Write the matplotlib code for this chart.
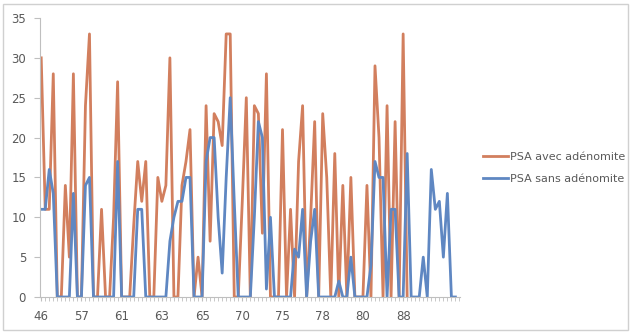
import numpy as np
import matplotlib
matplotlib.use('Agg')
import matplotlib.pyplot as plt
from matplotlib.patches import Rectangle

# PSA values per patient (sorted by age)
psa_avec = [30, 11, 11, 28, 0, 0, 14, 5, 28, 0,
            0, 24, 33, 0, 0, 11, 0, 0, 10, 27,
            0, 0, 0, 9, 17, 12, 17, 0, 0, 15,
            12, 14, 30, 0, 0, 14, 17, 21, 0, 5,
            0, 24, 7, 23, 22, 19, 33, 33, 0, 0,
            12, 25, 0, 24, 23, 8, 28, 0, 0, 0,
            21, 0, 11, 0, 17, 24, 0, 10, 22, 0,
            23, 15, 0, 18, 0, 14, 0, 15, 0, 0,
            0, 14, 0, 29, 20, 0, 24, 0, 22, 0,
            33, 0]
psa_sans = [11, 11, 16, 13, 0, 0, 0, 0, 13, 0,
            0, 14, 15, 0, 0, 0, 0, 0, 0, 17,
            0, 0, 0, 0, 11, 11, 0, 0, 0, 0,
            0, 0, 7, 10, 12, 12, 15, 15, 0, 0,
            0, 17, 20, 20, 10, 3, 15, 25, 12, 0,
            0, 0, 0, 10, 22, 20, 1, 10, 0, 0,
            0, 0, 0, 6, 5, 11, 0, 7, 11, 0,
            0, 0, 0, 0, 2, 0, 0, 5, 0, 0,
            0, 0, 4, 17, 15, 15, 0, 11, 11, 0,
            0, 18, 0, 0, 0, 5, 0, 16, 11, 12,
            5, 13, 0, 0]
age_labels = ['46', '57', '61', '63', '65', '70', '75', '78', '80', '88']
label_every = 10

ORANGE = '#D27F5E'
BLUE = '#5F87C2'
GREY = '#595959'

fig = plt.figure(figsize=(6.31, 3.32), dpi=100)
ax = fig.add_axes([0.0634, 0.1054, 0.666, 0.8404])

x_avec = np.arange(len(psa_avec))
x_sans = np.arange(len(psa_sans))
ax.plot(x_avec, psa_avec, color=ORANGE, lw=2.0, label='PSA avec adénomite',
        solid_joinstyle='round')
ax.plot(x_sans, psa_sans, color=BLUE, lw=2.0, label='PSA sans adénomite',
        solid_joinstyle='round')

ax.set_ylim(0, 35)
ax.set_yticks(np.arange(0, 36, 5))
ax.set_xlim(-0.3, len(psa_sans) + 0.2)
ax.set_xticks(np.arange(len(age_labels)) * label_every)
ax.set_xticklabels(age_labels)
ax.set_xticks(np.arange(len(psa_sans) + 1), minor=True)

for s in ['top', 'right']:
    ax.spines[s].set_visible(False)
ax.spines['left'].set_color('#BFBFBF')
ax.spines['bottom'].set_color('#BFBFBF')
ax.tick_params(axis='y', colors=GREY, labelsize=8.5, length=4, width=0.8,
               color='#BFBFBF', pad=6)
ax.tick_params(axis='x', which='major', colors=GREY, labelsize=8.5, length=3,
               width=0.8, color='#BFBFBF', pad=6)
ax.tick_params(axis='x', which='minor', length=3, width=0.6, color='#BFBFBF')

fig.legend(loc='center left', bbox_to_anchor=(0.765, 0.495), frameon=False,
           fontsize=8, handlelength=2.3, handletextpad=0.15, labelspacing=1.1,
           borderpad=0, borderaxespad=0, labelcolor=GREY)

fig.patches.append(Rectangle((0.004, 0.006), 0.992, 0.982, transform=fig.transFigure,
                             fill=False, edgecolor='#D0D0D0', lw=1.0))

fig.savefig('out.png', dpi=100)
